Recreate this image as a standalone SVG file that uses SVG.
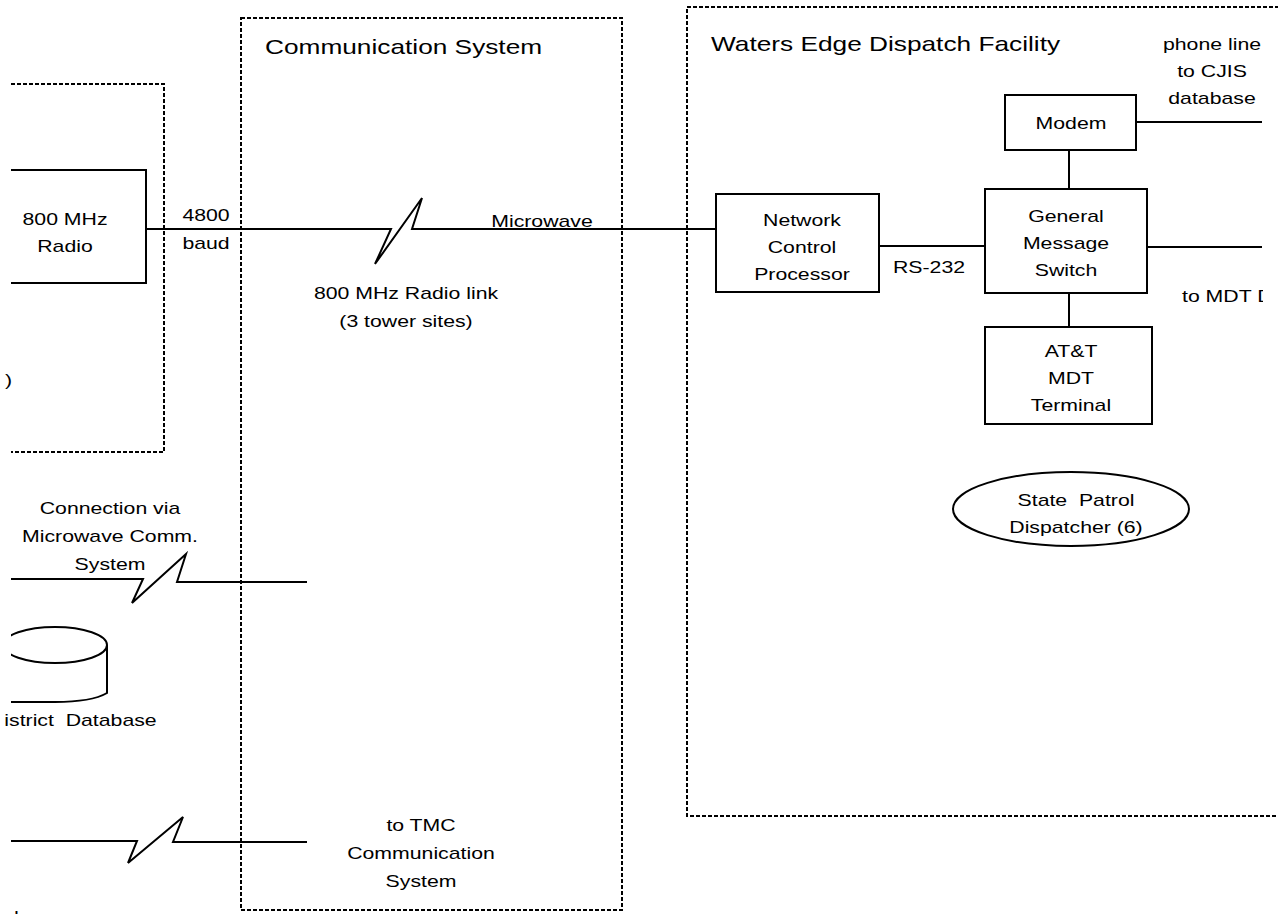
<svg xmlns="http://www.w3.org/2000/svg" width="1278" height="914" viewBox="0 0 1278 914">
<style>
.t{font-family:"Liberation Sans",Arial,Helvetica,sans-serif;font-size:17px;fill:#000}
.ti{font-size:21px}
.m{text-anchor:middle}
.box{fill:#fff;stroke:#000;stroke-width:2}
.open{fill:none;stroke:#000;stroke-width:2}
.dash{fill:none;stroke:#000;stroke-width:2;stroke-dasharray:4 2}
.ln{fill:none;stroke:#000;stroke-width:2;stroke-linejoin:miter}
</style>
<defs>
<clipPath id="clipL"><rect x="11" y="0" width="300" height="914"/></clipPath>
<clipPath id="clipT"><rect x="5" y="0" width="300" height="914"/></clipPath>
<clipPath id="clipR"><rect x="0" y="0" width="1263" height="914"/></clipPath>
</defs>
<rect width="1278" height="914" fill="#fff"/>

<!-- containers -->
<g id="left-area">
<path class="dash" d="M11,84 H164 V452 H11"/>
<text class="t" transform="translate(5 386) scale(1.25 1)">)</text>
</g>
<g id="communication-system">
<rect class="dash" x="241" y="18" width="381" height="892"/>
<text class="t ti" transform="translate(265 54) scale(1.25 1)">Communication System</text>
</g>
<g id="waters-edge">
<rect class="dash" x="687" y="7" width="640" height="809"/>
<text class="t ti" transform="translate(711 51) scale(1.25 1)">Waters Edge Dispatch Facility</text>
</g>

<!-- connectors -->
<g id="connectors">
<path class="ln" d="M146,229 H391 L375,264 L422,198 L412,229 H717"/>
<path class="ln" d="M11,579 H143 L132,603 L186,554 L177,582 H307"/>
<path class="ln" d="M11,841 H137 L128,863 L183,817 L173,842 H307"/>
<path class="ln" d="M879,246 H985"/>
<path class="ln" d="M1069,150 V189"/>
<path class="ln" d="M1136,122 H1262"/>
<path class="ln" d="M1147,247 H1262"/>
<path class="ln" d="M1069,293 V327"/>
</g>

<!-- connector labels -->
<g id="labels">
<text class="t m" transform="translate(206 221) scale(1.25 1)"><tspan x="0">4800</tspan><tspan x="0" dy="28">baud</tspan></text>
<text class="t m" transform="translate(542 227) scale(1.25 1)">Microwave</text>
<text class="t m" transform="translate(406 299) scale(1.25 1)"><tspan x="0">800 MHz Radio link</tspan><tspan x="0" dy="28">(3 tower sites)</tspan></text>
<text class="t m" transform="translate(110 514) scale(1.25 1)"><tspan x="0">Connection via</tspan><tspan x="0" dy="28">Microwave Comm.</tspan><tspan x="0" dy="28">System</tspan></text>
<text class="t m" transform="translate(421 831) scale(1.25 1)"><tspan x="0">to TMC</tspan><tspan x="0" dy="28">Communication</tspan><tspan x="0" dy="28">System</tspan></text>
<text class="t m" transform="translate(929 273) scale(1.25 1)">RS-232</text>
<text class="t m" transform="translate(1212 50) scale(1.25 1)"><tspan x="0">phone line</tspan><tspan x="0" dy="27">to CJIS</tspan><tspan x="0" dy="27">database</tspan></text>
<g clip-path="url(#clipR)">
<text class="t" transform="translate(1182 302) scale(1.25 1)">to MDT D</text>
</g>
<text class="t" transform="translate(7 923) scale(1.25 1)">d</text>
</g>

<!-- nodes -->
<g id="radio">
<path class="open" d="M11,170 H146 V283 H11"/>
<text class="t m" transform="translate(65 225) scale(1.25 1)"><tspan x="0">800 MHz</tspan><tspan x="0" dy="27">Radio</tspan></text>
</g>
<g id="district-database">
<g clip-path="url(#clipL)">
<ellipse class="open" cx="55" cy="645" rx="52" ry="18"/>
</g>
<path class="open" d="M107,645 V693 C95,700 75,702 55,702 L11,702"/>
<g clip-path="url(#clipT)">
<text class="t" xml:space="preserve" transform="translate(-11 726) scale(1.25 1)">District  Database</text>
</g>
</g>
<g id="ncp">
<rect class="box" x="716" y="194" width="163" height="98"/>
<text class="t m" transform="translate(802 226) scale(1.25 1)"><tspan x="0">Network</tspan><tspan x="0" dy="27">Control</tspan><tspan x="0" dy="27">Processor</tspan></text>
</g>
<g id="gms">
<rect class="box" x="985" y="189" width="162" height="104"/>
<text class="t m" transform="translate(1066 222) scale(1.25 1)"><tspan x="0">General</tspan><tspan x="0" dy="27">Message</tspan><tspan x="0" dy="27">Switch</tspan></text>
</g>
<g id="modem">
<rect class="box" x="1005" y="95" width="131" height="55"/>
<text class="t m" transform="translate(1071 129) scale(1.25 1)">Modem</text>
</g>
<g id="att-mdt">
<rect class="box" x="985" y="327" width="167" height="97"/>
<text class="t m" transform="translate(1071 357) scale(1.25 1)"><tspan x="0">AT&amp;T</tspan><tspan x="0" dy="27">MDT</tspan><tspan x="0" dy="27">Terminal</tspan></text>
</g>
<g id="dispatcher">
<ellipse class="box" cx="1071" cy="509" rx="118" ry="37"/>
<text class="t m" xml:space="preserve" transform="translate(1076 506) scale(1.25 1)"><tspan x="0">State  Patrol</tspan><tspan x="0" dy="27">Dispatcher (6)</tspan></text>
</g>
</svg>
